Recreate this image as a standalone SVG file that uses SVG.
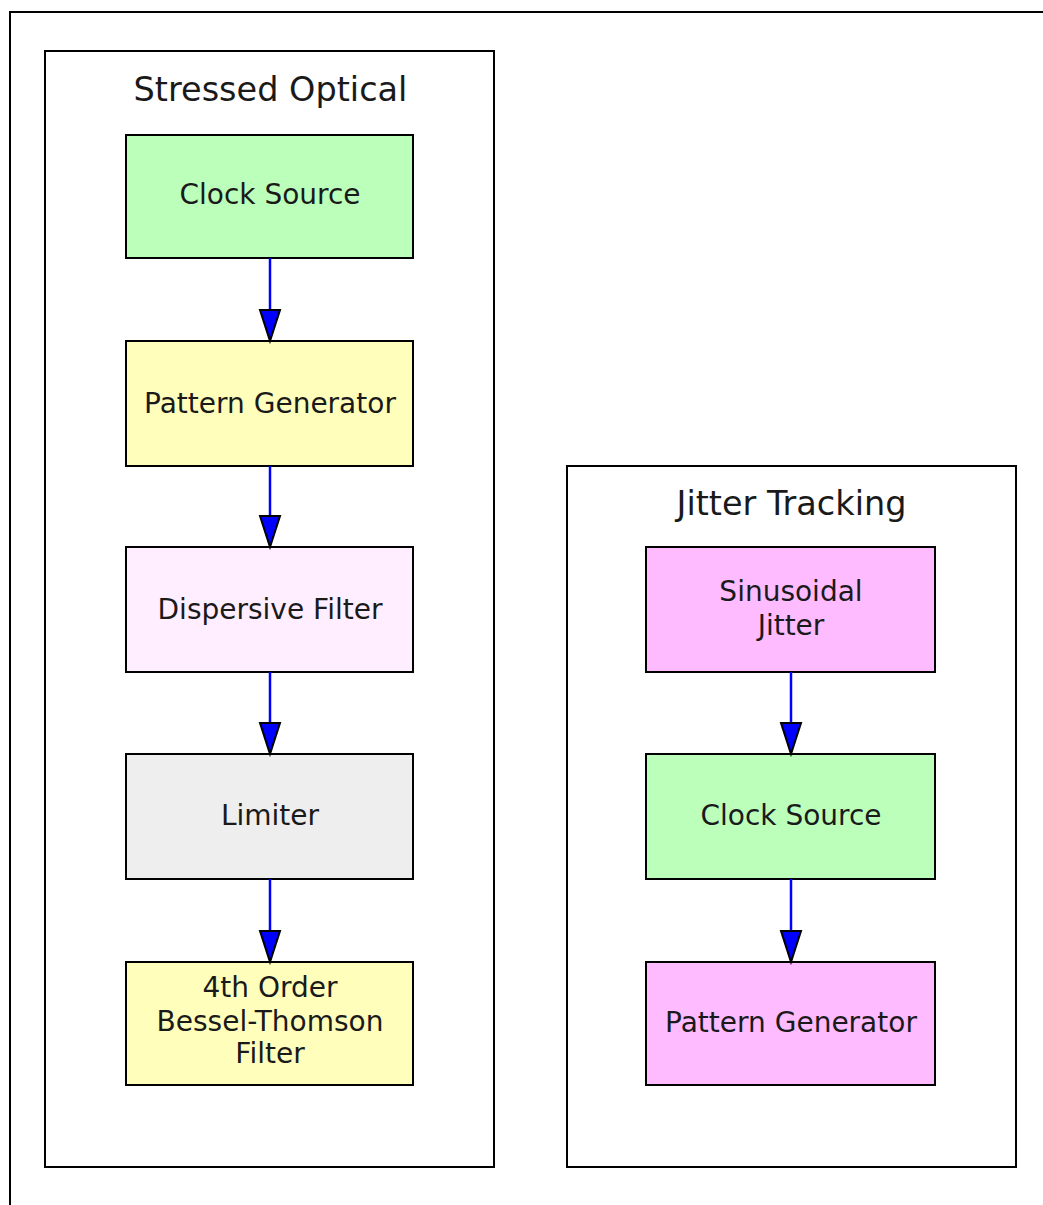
<svg xmlns="http://www.w3.org/2000/svg" width="1043" height="1205" viewBox="0 0 1043 1205">
<style>
.frame{fill:none;stroke:#000;stroke-width:2}
.cl{fill:#fff;stroke:#000;stroke-width:2}
.nd{stroke:#000;stroke-width:2}
.t{font-family:"DejaVu Sans",sans-serif;font-size:28px;fill:#1a1a1a;text-anchor:middle}
.ct{font-family:"DejaVu Sans",sans-serif;font-size:33.5px;fill:#1a1a1a;text-anchor:middle}
.e{stroke:#0000ff;stroke-width:2.5;fill:none}
.ah{fill:#0000ff;stroke:#000;stroke-width:2;stroke-linejoin:miter}
</style>
<rect width="1043" height="1205" fill="#fff"/>
<rect class="frame" x="10" y="12" width="1100" height="1250"/>
<g id="cluster_stressed">
<rect class="cl" x="45" y="51" width="449" height="1116"/>
<text class="ct" x="270.5" y="101">Stressed Optical</text>
</g>
<g id="cluster_jitter">
<rect class="cl" x="567" y="466" width="449" height="701"/>
<text class="ct" x="791.5" y="515">Jitter Tracking</text>
</g>
<g id="so_clock">
<rect class="nd" x="126" y="135" width="287" height="123" fill="#bbffbb"/>
<text class="t" x="270" y="204">Clock Source</text>
</g>
<g id="so_pattern">
<rect class="nd" x="126" y="341" width="287" height="125" fill="#ffffbb"/>
<text class="t" x="270" y="413">Pattern Generator</text>
</g>
<g id="so_dispersive">
<rect class="nd" x="126" y="547" width="287" height="125" fill="#ffeeff"/>
<text class="t" x="270" y="619">Dispersive Filter</text>
</g>
<g id="so_limiter">
<rect class="nd" x="126" y="754" width="287" height="125" fill="#eeeeee"/>
<text class="t" x="270" y="825">Limiter</text>
</g>
<g id="so_bessel">
<rect class="nd" x="126" y="962" width="287" height="123" fill="#ffffbb"/>
<text class="t" x="270" y="997">4th Order</text>
<text class="t" x="270" y="1031">Bessel-Thomson</text>
<text class="t" x="270" y="1063">Filter</text>
</g>
<g id="jt_sinus">
<rect class="nd" x="646" y="547" width="289" height="125" fill="#ffbbff"/>
<text class="t" x="791" y="601">Sinusoidal</text>
<text class="t" x="791" y="635">Jitter</text>
</g>
<g id="jt_clock">
<rect class="nd" x="646" y="754" width="289" height="125" fill="#bbffbb"/>
<text class="t" x="791" y="825">Clock Source</text>
</g>
<g id="jt_pattern">
<rect class="nd" x="646" y="962" width="289" height="123" fill="#ffbbff"/>
<text class="t" x="791" y="1032">Pattern Generator</text>
</g>
<g id="edges">
<line class="e" x1="270" y1="258" x2="270" y2="310"/>
<polygon class="ah" points="260,310 280,310 270,341"/>
<line class="e" x1="270" y1="466" x2="270" y2="516"/>
<polygon class="ah" points="260,516 280,516 270,547"/>
<line class="e" x1="270" y1="672" x2="270" y2="723"/>
<polygon class="ah" points="260,723 280,723 270,754"/>
<line class="e" x1="270" y1="879" x2="270" y2="931"/>
<polygon class="ah" points="260,931 280,931 270,962"/>
<line class="e" x1="791" y1="672" x2="791" y2="723"/>
<polygon class="ah" points="781,723 801,723 791,754"/>
<line class="e" x1="791" y1="879" x2="791" y2="931"/>
<polygon class="ah" points="781,931 801,931 791,962"/>
</g>
</svg>
